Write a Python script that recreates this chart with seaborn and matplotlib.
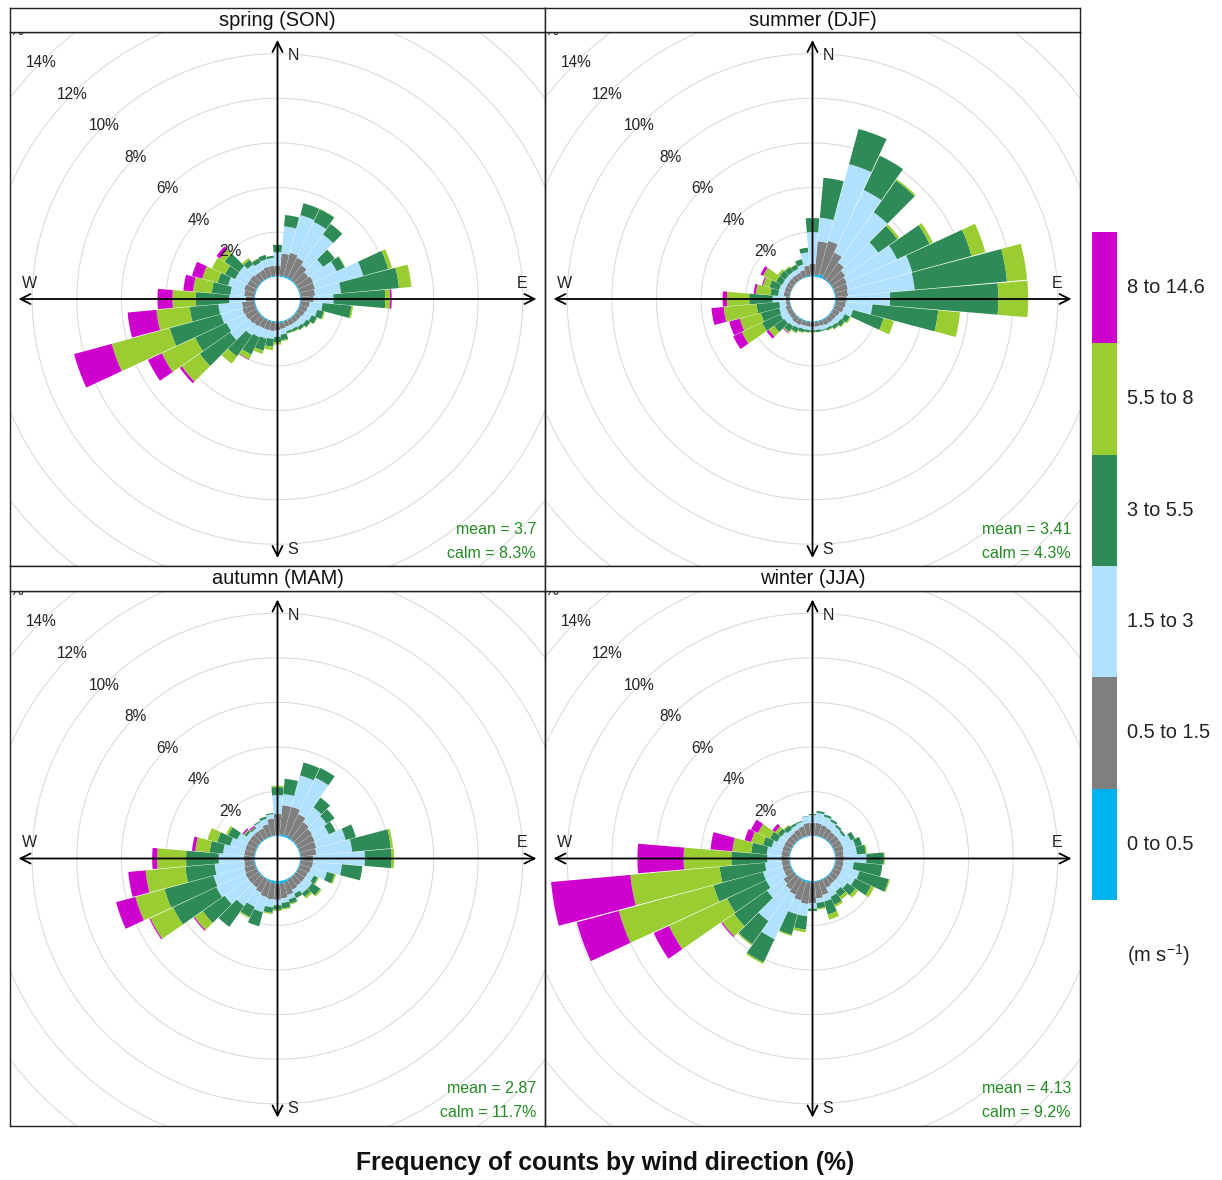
import numpy as np
import pandas as pd
import matplotlib
matplotlib.use("Agg")
import matplotlib.pyplot as plt
import seaborn as sns
from matplotlib.transforms import Bbox, TransformedBbox

sns.set_theme(style="white")
plt.rcParams['font.family'] = ['Liberation Sans', 'DejaVu Sans']
plt.rcParams['mathtext.fontset'] = 'custom'
plt.rcParams['mathtext.rm'] = 'Liberation Sans'
plt.rcParams['mathtext.it'] = 'Liberation Sans'

# ---------------- data ----------------
directions = list(range(0, 360, 10))
speed_labels = ["0 to 0.5", "0.5 to 1.5", "1.5 to 3", "3 to 5.5", "5.5 to 8", "8 to 14.6"]
speed_colors = ["#00B2EE", "#7F7F7F", "#B0E2FF", "#2E8B57", "#9ACD32", "#CD00CD"]
season_titles = ["spring (SON)", "summer (DJF)", "autumn (MAM)", "winter (JJA)"]
season_mean = [3.7, 3.41, 2.87, 4.13]
season_calm = [8.3, 4.3, 11.7, 9.2]
ring_levels = [2, 4, 6, 8, 10, 12, 14, 16]

# cumulative frequency (%) at the top of each speed band, one row per direction
son_cum = [
    [0.05, 0.50, 1.10, 1.43, 1.43, 1.43], [0.05, 1.05, 2.27, 2.78, 2.78, 2.78],
    [0.08, 1.15, 2.90, 3.45, 3.45, 3.45], [0.08, 1.05, 2.82, 3.45, 3.47, 3.47],
    [0.05, 0.86, 2.54, 3.12, 3.12, 3.12], [0.05, 0.70, 1.50, 2.14, 2.14, 2.14],
    [0.05, 0.77, 1.93, 2.33, 2.35, 2.35], [0.05, 0.74, 2.98, 4.14, 4.32, 4.32],
    [0.05, 0.69, 1.86, 4.47, 5.03, 5.03], [0.10, 0.62, 1.51, 3.83, 4.05, 4.12],
    [0.05, 0.45, 1.03, 2.32, 2.40, 2.40], [0.05, 0.40, 0.85, 1.15, 1.20, 1.20],
    [0.05, 0.35, 0.70, 0.95, 0.98, 0.98], [0.05, 0.30, 0.60, 0.80, 0.82, 0.82],
    [0.05, 0.30, 0.55, 0.70, 0.72, 0.72], [0.05, 0.30, 0.50, 0.62, 0.65, 0.65],
    [0.05, 0.30, 0.50, 0.60, 0.62, 0.62], [0.08, 0.35, 0.60, 0.85, 0.90, 0.90],
    [0.10, 0.40, 0.70, 0.95, 1.05, 1.05], [0.05, 0.45, 0.80, 1.15, 1.30, 1.30],
    [0.05, 0.45, 0.85, 1.40, 1.55, 1.55], [0.05, 0.45, 0.90, 1.75, 2.00, 2.02],
    [0.05, 0.50, 1.00, 2.15, 2.55, 2.55], [0.05, 0.55, 1.60, 3.26, 4.25, 4.36],
    [0.05, 0.60, 1.53, 3.08, 4.73, 5.42], [0.05, 0.63, 1.63, 4.00, 6.70, 8.45],
    [0.05, 0.60, 1.66, 2.95, 4.45, 5.75], [0.10, 0.42, 1.17, 2.66, 3.71, 4.38],
    [0.05, 0.50, 1.12, 1.96, 2.80, 3.24], [0.05, 0.55, 1.30, 1.78, 2.50, 2.97],
    [0.05, 0.50, 1.10, 1.60, 2.25, 2.25], [0.05, 0.50, 1.10, 1.90, 2.15, 2.35],
    [0.05, 0.45, 0.90, 1.15, 1.25, 1.25], [0.05, 0.45, 0.80, 1.00, 1.02, 1.02],
    [0.05, 0.50, 0.85, 1.05, 1.05, 1.05], [0.05, 0.50, 0.85, 0.95, 0.95, 0.95],
]
djf_cum = [
    [0.08, 0.58, 2.00, 2.63, 2.63, 2.63], [0.10, 1.60, 2.66, 4.46, 4.46, 4.46],
    [0.15, 1.70, 5.27, 6.90, 6.90, 6.90], [0.05, 1.30, 4.40, 6.10, 6.10, 6.10],
    [0.05, 1.00, 3.76, 5.50, 5.57, 5.57], [0.05, 0.80, 2.61, 3.65, 3.76, 3.76],
    [0.05, 0.70, 3.19, 4.80, 4.96, 4.96], [0.05, 0.65, 3.63, 6.39, 7.03, 7.03],
    [0.05, 0.60, 3.60, 7.76, 8.66, 8.66], [0.10, 0.54, 2.48, 7.33, 8.67, 8.67],
    [0.05, 0.50, 1.70, 4.66, 5.64, 5.64], [0.05, 0.45, 0.88, 2.30, 2.78, 2.78],
    [0.05, 0.35, 0.60, 0.85, 0.90, 0.90], [0.05, 0.30, 0.55, 0.75, 0.80, 0.80],
    [0.05, 0.30, 0.50, 0.65, 0.68, 0.68], [0.05, 0.30, 0.45, 0.55, 0.58, 0.58],
    [0.05, 0.25, 0.45, 0.50, 0.50, 0.50], [0.05, 0.25, 0.40, 0.50, 0.50, 0.50],
    [0.05, 0.25, 0.40, 0.48, 0.50, 0.50], [0.05, 0.25, 0.40, 0.50, 0.52, 0.52],
    [0.05, 0.25, 0.40, 0.55, 0.58, 0.58], [0.05, 0.30, 0.45, 0.65, 0.70, 0.70],
    [0.05, 0.30, 0.50, 0.80, 0.85, 0.88], [0.03, 0.25, 0.55, 1.10, 1.40, 1.52],
    [0.03, 0.25, 0.60, 1.50, 2.50, 2.93], [0.03, 0.25, 0.55, 1.40, 2.38, 2.87],
    [0.03, 0.20, 0.50, 1.52, 3.00, 3.55], [0.03, 0.19, 0.79, 1.84, 2.84, 3.03],
    [0.03, 0.30, 0.55, 0.90, 1.55, 1.65], [0.03, 0.30, 0.55, 1.00, 1.30, 1.35],
    [0.03, 0.30, 0.50, 0.80, 1.45, 1.58], [0.03, 0.30, 0.50, 0.80, 0.90, 0.90],
    [0.03, 0.30, 0.50, 0.75, 0.80, 0.80], [0.03, 0.30, 0.50, 0.70, 0.72, 0.72],
    [0.05, 0.35, 0.60, 0.85, 0.85, 0.85], [0.05, 0.50, 1.10, 1.31, 1.31, 1.31],
]
mam_cum = [
    [0.05, 1.00, 1.84, 2.20, 2.26, 2.26], [0.08, 1.40, 1.90, 2.59, 2.59, 2.59],
    [0.10, 1.40, 2.86, 3.46, 3.46, 3.46], [0.08, 1.20, 3.00, 3.49, 3.49, 3.49],
    [0.05, 1.00, 1.80, 2.34, 2.34, 2.34], [0.05, 0.90, 1.70, 2.13, 2.13, 2.13],
    [0.05, 0.85, 1.55, 1.88, 1.88, 1.88], [0.05, 0.80, 2.17, 2.64, 2.64, 2.64],
    [0.05, 0.75, 2.36, 4.10, 4.20, 4.20], [0.10, 0.60, 2.92, 4.12, 4.23, 4.23],
    [0.05, 0.60, 1.90, 2.82, 2.82, 2.82], [0.05, 0.55, 1.30, 1.65, 1.72, 1.72],
    [0.05, 0.50, 0.80, 1.00, 1.05, 1.05], [0.05, 0.50, 0.90, 1.35, 1.42, 1.42],
    [0.05, 0.50, 0.90, 1.10, 1.20, 1.20], [0.05, 0.55, 0.75, 0.96, 0.96, 0.96],
    [0.10, 0.70, 0.90, 1.10, 1.15, 1.15], [0.15, 0.80, 1.00, 1.25, 1.30, 1.30],
    [0.15, 0.85, 1.10, 1.30, 1.35, 1.35], [0.12, 0.85, 1.20, 1.45, 1.50, 1.50],
    [0.08, 0.80, 1.50, 2.15, 2.15, 2.15], [0.05, 0.70, 1.40, 1.90, 1.95, 1.95],
    [0.05, 0.60, 1.60, 2.75, 2.75, 2.75], [0.05, 0.60, 1.90, 3.10, 3.55, 3.60],
    [0.05, 0.60, 2.03, 4.17, 5.30, 5.35], [0.05, 0.55, 1.97, 4.25, 5.60, 6.50],
    [0.05, 0.50, 1.83, 3.15, 4.94, 5.72], [0.10, 0.50, 1.64, 3.10, 4.40, 4.62],
    [0.05, 0.50, 1.45, 2.05, 2.70, 2.85], [0.05, 0.50, 1.20, 1.80, 2.25, 2.25],
    [0.05, 0.50, 1.00, 1.45, 1.55, 1.55], [0.05, 0.50, 0.70, 0.80, 0.85, 0.92],
    [0.05, 0.50, 0.65, 0.72, 0.74, 0.80], [0.05, 0.50, 0.80, 0.85, 0.85, 0.85],
    [0.05, 0.60, 0.85, 0.95, 0.95, 0.95], [0.05, 0.80, 1.00, 1.05, 1.05, 1.05],
]
jja_cum = [
    [0.05, 0.60, 0.95, 1.00, 1.00, 1.00], [0.05, 0.60, 1.05, 1.14, 1.14, 1.14],
    [0.05, 0.55, 0.95, 1.05, 1.05, 1.05], [0.05, 0.50, 0.85, 0.95, 0.95, 0.95],
    [0.05, 0.45, 0.75, 0.85, 0.85, 0.85], [0.05, 0.45, 0.70, 0.80, 0.80, 0.80],
    [0.05, 0.45, 0.90, 1.10, 1.10, 1.10], [0.05, 0.45, 1.00, 1.30, 1.30, 1.30],
    [0.05, 0.40, 1.00, 1.40, 1.45, 1.45], [0.05, 0.40, 1.42, 2.20, 2.24, 2.24],
    [0.05, 0.40, 0.86, 2.14, 2.14, 2.14], [0.05, 0.40, 1.18, 2.55, 2.60, 2.60],
    [0.05, 0.40, 1.10, 1.90, 2.05, 2.05], [0.05, 0.40, 0.90, 1.35, 1.50, 1.50],
    [0.05, 0.40, 0.80, 1.10, 1.25, 1.25], [0.05, 0.45, 0.90, 1.30, 1.40, 1.40],
    [0.05, 0.70, 1.00, 1.60, 1.84, 1.84], [0.05, 0.80, 1.00, 1.25, 1.30, 1.30],
    [0.10, 1.00, 1.25, 1.36, 1.36, 1.36], [0.10, 1.05, 1.60, 2.20, 2.32, 2.32],
    [0.08, 0.95, 1.60, 2.55, 2.60, 2.60], [0.05, 0.80, 3.00, 4.15, 4.22, 4.22],
    [0.05, 0.70, 2.43, 3.70, 3.76, 3.76], [0.05, 0.60, 1.50, 3.30, 3.95, 4.00],
    [0.05, 0.40, 1.30, 3.23, 6.11, 6.87], [0.05, 0.40, 1.30, 3.60, 8.00, 9.95],
    [0.05, 0.38, 1.14, 3.18, 7.20, 10.77], [0.08, 0.40, 1.03, 2.64, 4.78, 6.85],
    [0.05, 0.40, 1.06, 1.76, 2.61, 3.59], [0.05, 0.40, 0.90, 1.30, 1.85, 2.15],
    [0.05, 0.40, 0.75, 1.10, 1.70, 2.05], [0.05, 0.40, 0.70, 0.90, 1.05, 1.20],
    [0.05, 0.40, 0.60, 0.80, 0.85, 0.85], [0.05, 0.45, 0.65, 0.75, 0.75, 0.75],
    [0.05, 0.50, 0.70, 0.75, 0.75, 0.75], [0.05, 0.60, 0.90, 0.92, 0.92, 0.92],
]
season_data = [son_cum, djf_cum, mam_cum, jja_cum]

# ---------------- layout (pixels) ----------------
W, H = 1222, 1180
fig = plt.figure(figsize=(W / 100, H / 100), dpi=100)
palette = sns.color_palette(speed_colors)

def frac(x0, y0, w, h):
    return [x0 / W, 1 - (y0 + h) / H, w / W, h / H]

cols = [(10, 545), (545, 1080)]
rows = [(32, 566), (591, 1126)]
strips = [(8, 32), (566, 591)]
px_per_unit = 22.3
hole_units = 1.0
r_max = 16.0
R = (r_max + hole_units) * px_per_unit

theta = np.deg2rad(directions)
for i in range(4):
    r_i, c_i = divmod(i, 2)
    x0, x1 = cols[c_i]
    y0, y1 = rows[r_i]
    cx, cy = (x0 + x1) / 2, (y0 + y1) / 2
    clip = TransformedBbox(Bbox.from_extents(x0 / W, 1 - y1 / H, x1 / W, 1 - y0 / H),
                           fig.transFigure)

    ax = fig.add_axes(frac(cx - R, cy - R, 2 * R, 2 * R), projection='polar')
    ax.set_theta_zero_location('N')
    ax.set_theta_direction(-1)
    ax.set_ylim(0, r_max)
    ax.set_rorigin(-hole_units)
    ax.axis('off')
    ax.patch.set_alpha(0)

    circ = np.linspace(0, 2 * np.pi, 500)
    for lev in ring_levels:
        ln, = ax.plot(circ, np.full_like(circ, lev), color='#dadada', lw=0.75, zorder=1)
        ln.set_clip_box(clip)

    cum = np.array(season_data[i])
    df = pd.DataFrame(cum, columns=speed_labels)
    df['dir'] = directions
    bottom = np.zeros(len(directions))
    for k, lab in enumerate(speed_labels):
        top = df[lab].to_numpy()
        bars = ax.bar(theta, top - bottom, bottom=bottom, width=np.deg2rad(10) * 0.97,
                      color=palette[k], linewidth=0, zorder=2, align='center')
        for p in bars:
            p.set_clip_box(clip)
        bottom = top

    for lev in ring_levels:
        t = ax.text(np.deg2rad(315), lev, f"{lev}%", ha='center', va='center',
                    fontsize=11.2, color='#222222', zorder=3, clip_on=True)
        t.set_clip_box(clip)

    # overlay with compass arrows and statistics
    ov = fig.add_axes(frac(x0, y0, x1 - x0, y1 - y0))
    ov.set_xlim(x0, x1)
    ov.set_ylim(y1, y0)
    ov.patch.set_alpha(0)
    ov.set_xticks([])
    ov.set_yticks([])
    for s in ov.spines.values():
        s.set_color('#222222')
        s.set_linewidth(1.0)
    L = 259
    ap = dict(arrowstyle='<->', lw=1.3, color='black', shrinkA=0, shrinkB=0,
              mutation_scale=18)
    ov.annotate('', xy=(cx, cy - L), xytext=(cx, cy + L), arrowprops=ap)
    ov.annotate('', xy=(cx + L, cy), xytext=(cx - L, cy), arrowprops=ap)
    fs = 11.5
    ov.text(cx + 10, cy - 243, 'N', ha='left', va='center', fontsize=fs, color='#222222')
    ov.text(cx + 10, cy + 250, 'S', ha='left', va='center', fontsize=fs, color='#222222')
    ov.text(cx + 245, cy - 16, 'E', ha='center', va='center', fontsize=fs, color='#222222')
    ov.text(cx - 248, cy - 16, 'W', ha='center', va='center', fontsize=fs, color='#222222')
    ov.text(x1 - 9, cy + 230, f"mean = {season_mean[i]:g}", ha='right', va='center',
            fontsize=fs, color='forestgreen')
    ov.text(x1 - 9, cy + 254, f"calm = {season_calm[i]:g}%", ha='right', va='center',
            fontsize=fs, color='forestgreen')

    # strip
    sy0, sy1 = strips[r_i]
    st = fig.add_axes(frac(x0, sy0, x1 - x0, sy1 - sy0))
    st.set_facecolor('white')
    st.set_xticks([])
    st.set_yticks([])
    for s in st.spines.values():
        s.set_color('#222222')
        s.set_linewidth(1.0)
    st.text(0.5, 0.5, season_titles[i], ha='center', va='center', fontsize=14.4,
            color='#111111', transform=st.transAxes)

# legend key (slowest band at the bottom)
lg = fig.add_axes(frac(1092, 232, 25, 668))
for k in range(len(speed_labels)):
    lg.bar(0, 1, bottom=k, width=1, color=palette[k], linewidth=0)
lg.set_xlim(-0.5, 0.5)
lg.set_ylim(0, len(speed_labels))
lg.axis('off')
seg = 668 / len(speed_labels)
for k, lab in enumerate(speed_labels):
    yc = 232 + seg * (len(speed_labels) - 1 - k + 0.5)
    fig.text(1127 / W, 1 - yc / H, lab, ha='left', va='center', fontsize=14.4, color='#222222')
fig.text(1127 / W, 1 - 955 / H, r"(m s$^{-1}$)", ha='left', va='center', fontsize=14.4,
         color='#222222')

fig.text(605 / W, 1 - 1163 / H, "Frequency of counts by wind direction (%)", ha='center',
         va='center', fontsize=17.8, fontweight='bold', color='#111111')

fig.savefig("out.png", dpi=100)
